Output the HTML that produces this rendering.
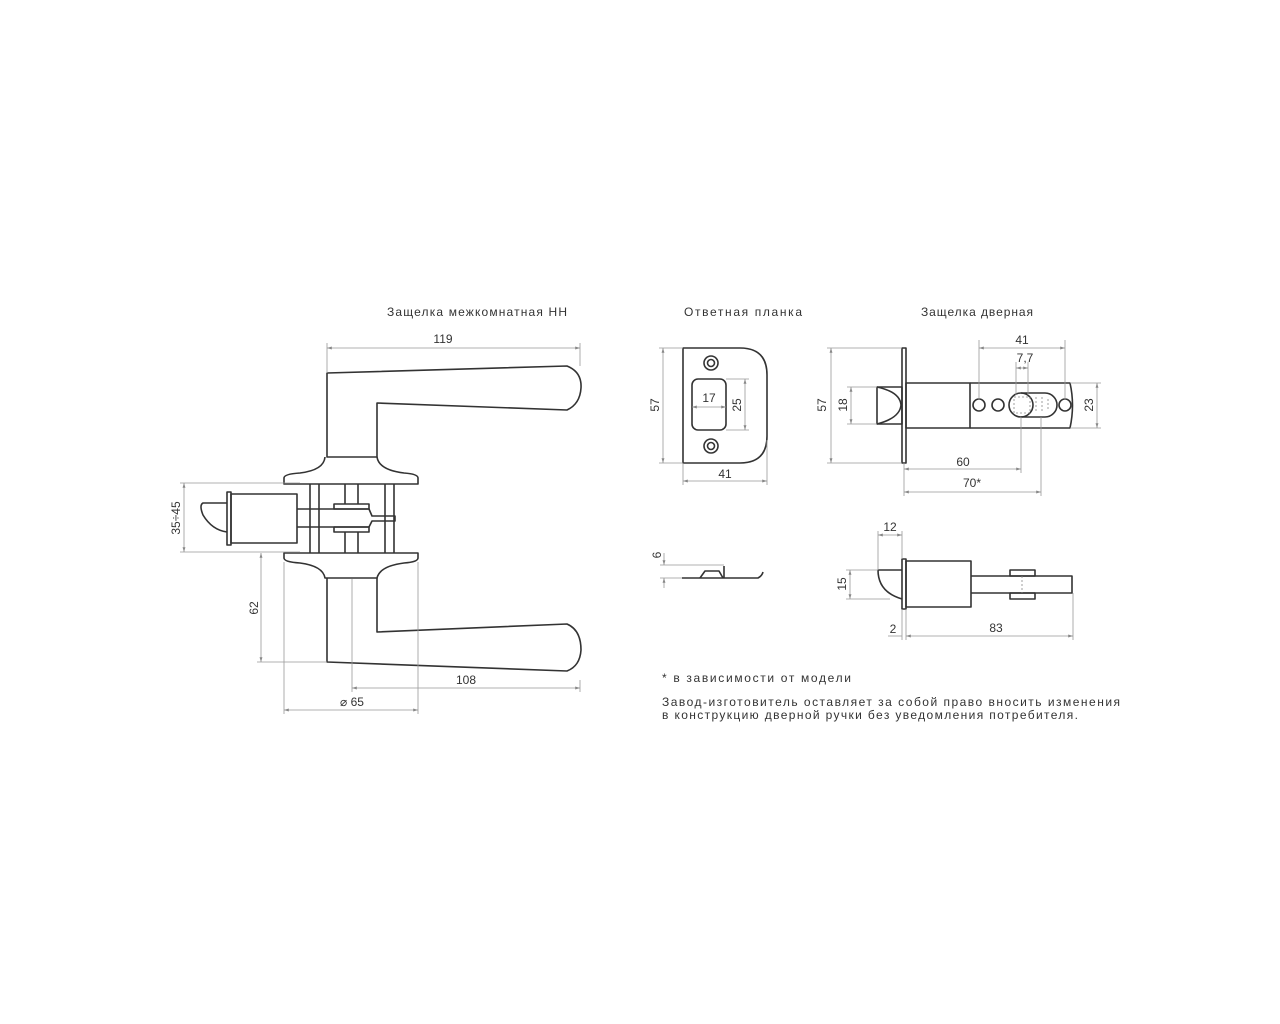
<!DOCTYPE html>
<html><head><meta charset="utf-8"><style>
html,body{margin:0;padding:0;background:#fff;}
svg{display:block;}
text{font-family:"Liberation Sans",sans-serif;fill:#333;font-size:12px;}
.o{fill:none;stroke:#333;stroke-width:1.6;stroke-linejoin:round;}
.d{fill:none;stroke:#999;stroke-width:0.8;}
.t{fill:none;stroke:#888;stroke-width:0.8;stroke-dasharray:2 2;}
</style></head><body>
<svg width="1280" height="1024" viewBox="0 0 1280 1024" xmlns="http://www.w3.org/2000/svg">
<defs>
<marker id="a" viewBox="0 0 10 10" refX="10" refY="5" markerWidth="6" markerHeight="6" orient="auto-start-reverse"><path d="M0,2 L10,5 L0,8" fill="#888"/></marker>
</defs>

<text x="387" y="316" textLength="180">Защелка межкомнатная НН</text>
<text x="684" y="316" textLength="118">Ответная планка</text>
<text x="921" y="316" textLength="112">Защелка дверная</text>

<path class="o" d="M327,457 L327,373 L567,366 Q582,372 581,388 Q580,404 567,410 L377,403 L377,457 Z"/>
<path class="o" d="M325,457 Q324,470 300,473 Q284,474 284,478 L284,484 L418,484 L418,478 Q418,474 404,473 Q379,470 377,457"/>
<path class="o" d="M284,553 L418,553 L418,558 Q418,562 404,563 Q380,566 377,578 L325,578 Q323,566 300,563 Q284,562 284,558 Z"/>
<path class="o" d="M327,578 L327,662 L567,671 Q580,666 581,650 Q581,630 567,624 L377,632 L377,578"/>
<path class="o" d="M310,484 V553 M319,484 V553 M345,484 V504 M358,484 V504 M345,532 V553 M358,532 V553 M385,484 V553 M394,484 V553"/>
<path class="o" d="M297,509 L369,509 L372,516 L395,516 L395,521 L372,521 L369,527 L297,527"/>
<rect class="o" x="334" y="504" width="35" height="5"/>
<rect class="o" x="334" y="527" width="35" height="5"/>
<rect class="o" x="231" y="494" width="66" height="49"/>
<rect class="o" x="227" y="492" width="4" height="53"/>
<path class="o" d="M227,503 L203,503 Q199,505 203,515 Q212,530 227,532"/>
<path class="d" d="M327,373 V343 M580,366 V343"/>
<path class="d" marker-start="url(#a)" marker-end="url(#a)" d="M327,348 H580"/>
<text x="443" y="343" text-anchor="middle">119</text>
<path class="d" d="M180,483 H300 M180,552 H300"/>
<path class="d" marker-start="url(#a)" marker-end="url(#a)" d="M184,483 V552"/>
<text transform="translate(180,518) rotate(-90)" text-anchor="middle">35÷45</text>
<path class="d" d="M257,662 H327"/>
<path class="d" marker-start="url(#a)" marker-end="url(#a)" d="M261,553 V662"/>
<text transform="translate(258,608) rotate(-90)" text-anchor="middle">62</text>
<path class="d" d="M352,579 V692 M580,680 V692 M284,562 V714 M418,562 V714"/>
<path class="d" marker-start="url(#a)" marker-end="url(#a)" d="M352,688 H580"/>
<text x="466" y="684" text-anchor="middle">108</text>
<path class="d" marker-start="url(#a)" marker-end="url(#a)" d="M284,710 H418"/>
<text x="352" y="706" text-anchor="middle">⌀ 65</text>

<path class="o" d="M683,348 L740,348 Q767,348 767,375 L767,436 Q767,463 740,463 L683,463 Z"/>
<circle class="o" cx="711" cy="363" r="7"/><circle class="o" cx="711" cy="363" r="3.5"/>
<circle class="o" cx="711" cy="446" r="7"/><circle class="o" cx="711" cy="446" r="3.5"/>
<rect class="o" x="692" y="379" width="34" height="51" rx="6"/>
<path class="d" d="M659,348 H683 M659,463 H683 M726,379 H749 M726,430 H749 M683,463 V485 M767,440 V485"/>
<path class="d" marker-start="url(#a)" marker-end="url(#a)" d="M663,348 V463"/>
<text transform="translate(659,405) rotate(-90)" text-anchor="middle">57</text>
<path class="d" marker-start="url(#a)" marker-end="url(#a)" d="M692,407 H726"/>
<text x="709" y="402" text-anchor="middle">17</text>
<path class="d" marker-start="url(#a)" marker-end="url(#a)" d="M745,379 V430"/>
<text transform="translate(741,405) rotate(-90)" text-anchor="middle">25</text>
<path class="d" marker-start="url(#a)" marker-end="url(#a)" d="M683,481 H767"/>
<text x="725" y="478" text-anchor="middle">41</text>

<path class="o" d="M682,578 L758,578 Q762,576 763,572"/>
<path class="o" d="M700,578 L705,571 L719,571 L723,578 M724,566 V578"/>
<path class="d" d="M660,565 H724 M660,578 H682"/>
<path class="d" marker-end="url(#a)" d="M664,553 V565"/>
<path class="d" marker-end="url(#a)" d="M664,588 V578"/>
<text transform="translate(661,555) rotate(-90)" text-anchor="middle">6</text>

<rect class="o" x="902" y="348" width="4" height="115"/>
<rect class="o" x="877" y="387" width="25" height="37"/>
<path class="o" d="M877,387 Q900,392 901,405 Q900,418 877,424"/>
<rect class="o" x="906" y="383" width="64" height="45"/>
<path class="o" d="M970,383 L1070,383 Q1075,405 1070,428 L970,428"/>
<circle class="o" cx="979" cy="405" r="6"/><circle class="o" cx="998" cy="405" r="6"/>
<circle class="o" cx="1065" cy="405" r="6"/>
<circle class="o" cx="1021" cy="405" r="12"/>
<path class="o" d="M1021,393 H1045 A12,12 0 0 1 1045,417 H1021"/>
<rect class="t" x="1014" y="397" width="16" height="16"/>
<path class="t" d="M1036,397 V413 M1042,397 V413 M1048,399 V411"/>
<path class="d" d="M827,348 H902 M827,463 H902 M847,387 H877 M847,424 H877 M1070,383 H1101 M1070,428 H1101 M979,340 V400 M1065,340 V400 M1016,362 V395 M1028,362 V395 M1021,417 V473 M1041,417 V496 M904,463 V496"/>
<path class="d" marker-start="url(#a)" marker-end="url(#a)" d="M831,348 V463"/>
<text transform="translate(826,405) rotate(-90)" text-anchor="middle">57</text>
<path class="d" marker-start="url(#a)" marker-end="url(#a)" d="M851,387 V424"/>
<text transform="translate(847,405) rotate(-90)" text-anchor="middle">18</text>
<path class="d" marker-start="url(#a)" marker-end="url(#a)" d="M979,348 H1065"/>
<text x="1022" y="344" text-anchor="middle">41</text>
<path class="d" marker-start="url(#a)" marker-end="url(#a)" d="M1016,368 H1028"/>
<text x="1025" y="362" text-anchor="middle">7,7</text>
<path class="d" marker-start="url(#a)" marker-end="url(#a)" d="M1097,383 V428"/>
<text transform="translate(1093,405) rotate(-90)" text-anchor="middle">23</text>
<path class="d" marker-start="url(#a)" marker-end="url(#a)" d="M904,469 H1021"/>
<text x="963" y="466" text-anchor="middle">60</text>
<path class="d" marker-start="url(#a)" marker-end="url(#a)" d="M904,492 H1041"/>
<text x="972" y="487" text-anchor="middle">70*</text>

<rect class="o" x="902" y="559" width="4" height="50"/>
<rect class="o" x="906" y="561" width="65" height="46"/>
<path class="o" d="M902,570 L878,570 Q878,592 902,599"/>
<path class="o" d="M971,576 H1072 V593 H971"/>
<rect class="o" x="1010" y="570" width="25" height="6"/>
<rect class="o" x="1010" y="593" width="25" height="6"/>
<path class="t" d="M1022,576 V593"/>
<path class="d" d="M878,531 V570 M902,531 V559 M846,570 H878 M846,599 H890 M906,609 V640 M1073,593 V640 M902,609 V640"/>
<path class="d" marker-start="url(#a)" marker-end="url(#a)" d="M878,535 H902"/>
<text x="890" y="531" text-anchor="middle">12</text>
<path class="d" marker-start="url(#a)" marker-end="url(#a)" d="M850,570 V599"/>
<text transform="translate(846,584) rotate(-90)" text-anchor="middle">15</text>
<path class="d" marker-start="url(#a)" marker-end="url(#a)" d="M906,636 H1073"/>
<text x="996" y="632" text-anchor="middle">83</text>
<path class="d" d="M888,636 H902"/>
<text x="893" y="633" text-anchor="middle">2</text>

<text x="662" y="682" textLength="189">* в зависимости от модели</text>
<text x="662" y="706" textLength="458">Завод-изготовитель оставляет за собой право вносить изменения</text>
<text x="662" y="719" textLength="416">в конструкцию дверной ручки без уведомления потребителя.</text>
</svg>
</body></html>
